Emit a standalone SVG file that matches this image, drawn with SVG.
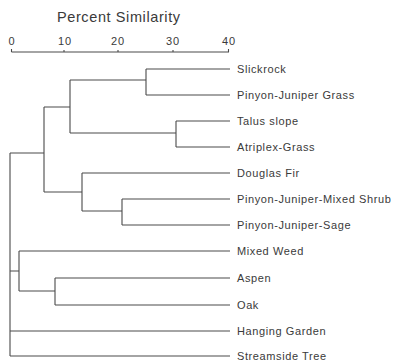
<svg xmlns="http://www.w3.org/2000/svg" width="397" height="361" viewBox="0 0 397 361">
<style>
.ln{stroke:#4a4a4a;stroke-width:1.1;fill:none}
.lb{font-family:"Liberation Sans",Arial,sans-serif;font-size:11px;fill:#3a3a3a;letter-spacing:0.6px}
.ax{font-family:"Liberation Sans",Arial,sans-serif;font-size:11px;fill:#3a3a3a;letter-spacing:1px;text-anchor:middle}
.tt{font-family:"Liberation Sans",Arial,sans-serif;font-size:14.5px;fill:#3a3a3a;letter-spacing:0.6px}
</style>
<rect width="397" height="361" fill="#fff"/>
<g id="axis">
<text class="tt" x="57" y="22">Percent Similarity</text>
<path class="ln" d="M11.5 52H229M11.5 49V52M64 50V52M118 50V52M173 50V52M228.5 49V52"/>
<text class="ax" x="12" y="45">0</text>
<text class="ax" x="65" y="45">10</text>
<text class="ax" x="118" y="45">20</text>
<text class="ax" x="173" y="45">30</text>
<text class="ax" x="229" y="45">40</text>
</g>
<g id="connectors">
<path class="ln" d="M146 69H230M146 95H230M146 69V95M70 80H146"/>
<path class="ln" d="M176 121H230M176 147H230M176 121V147M70 133H176"/>
<path class="ln" d="M70 80V133M44 107H70"/>
<path class="ln" d="M82 173H230M122 199H230M122 225H230M122 199V225M82 211H122M82 173V211M44 192H82"/>
<path class="ln" d="M44 107V192M10 153H44"/>
<path class="ln" d="M19 251H230M55 278H230M55 305H230M55 278V305M19 291H55M19 251V291M10 271H19"/>
<path class="ln" d="M10 331H230M10 356H230M10 153V356"/>
</g>
<g id="n-slickrock"><text class="lb" x="237" y="73">Slickrock</text></g>
<g id="n-pjgrass"><text class="lb" x="237" y="99">Pinyon-Juniper Grass</text></g>
<g id="n-talus"><text class="lb" x="237" y="125">Talus slope</text></g>
<g id="n-atriplex"><text class="lb" x="237" y="151">Atriplex-Grass</text></g>
<g id="n-douglas"><text class="lb" x="237" y="177">Douglas Fir</text></g>
<g id="n-pjms"><text class="lb" x="237" y="203">Pinyon-Juniper-Mixed Shrub</text></g>
<g id="n-pjsage"><text class="lb" x="237" y="229">Pinyon-Juniper-Sage</text></g>
<g id="n-mixedweed"><text class="lb" x="237" y="255">Mixed Weed</text></g>
<g id="n-aspen"><text class="lb" x="237" y="282">Aspen</text></g>
<g id="n-oak"><text class="lb" x="237" y="309">Oak</text></g>
<g id="n-hanging"><text class="lb" x="237" y="335">Hanging Garden</text></g>
<g id="n-streamside"><text class="lb" x="237" y="360">Streamside Tree</text></g>
</svg>
